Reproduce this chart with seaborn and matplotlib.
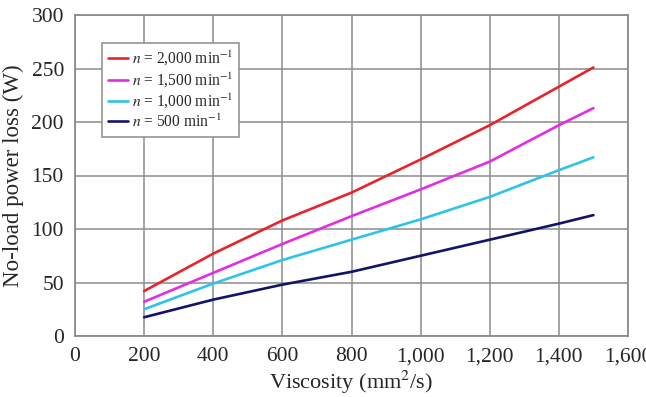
import numpy as np
import pandas as pd
import matplotlib
matplotlib.use("Agg")
import matplotlib.pyplot as plt
import seaborn as sns
from matplotlib.ticker import FuncFormatter

viscosity = [200, 400, 600, 800, 1000, 1200, 1400, 1500]
loss_2000 = [42, 77, 108, 134, 165, 197, 233, 251]
loss_1500 = [32, 59, 86, 112, 137, 163, 197, 213]
loss_1000 = [25, 49, 71, 90, 109, 130, 155, 167]
loss_500 = [17.5, 34, 48, 60, 75, 90, 105, 113]
series_labels = [r"$n$ = 2,000 min$^{-1}$", r"$n$ = 1,500 min$^{-1}$",
                 r"$n$ = 1,000 min$^{-1}$", r"$n$ = 500 min$^{-1}$"]
colors = ["#e8232b", "#e22ee0", "#2ec4ea", "#141466"]

rows = []
for lab, vals in zip(series_labels, [loss_2000, loss_1500, loss_1000, loss_500]):
    for x, y in zip(viscosity, vals):
        rows.append({"Viscosity": x, "Loss": y, "Speed": lab})
df = pd.DataFrame(rows)

sns.set_style("white")
plt.rcParams["font.family"] = ["Liberation Serif", "DejaVu Serif"]
plt.rcParams["mathtext.fontset"] = "stix"

fig = plt.figure(figsize=(6.46, 3.97), dpi=100)
ax = fig.add_axes([75/646, 61/397, 553/646, 321/397])

sns.lineplot(data=df, x="Viscosity", y="Loss", hue="Speed", palette=colors,
             hue_order=series_labels, linewidth=1.9, ax=ax, sort=False)

ax.set_xlim(0, 1600)
ax.set_ylim(0, 300)
ax.set_xticks(range(0, 1601, 200))
ax.set_yticks(range(0, 301, 50))
ax.xaxis.set_major_formatter(FuncFormatter(lambda v, p: f"{int(v):,}"))
ax.grid(True, color="#8c8c8c", linewidth=1.1)
ax.set_axisbelow(True)
for s in ax.spines.values():
    s.set_color("#8c8c8c")
    s.set_linewidth(1.3)
    s.set_visible(True)
ax.tick_params(axis="both", direction="out", length=5, width=1.1, color="#8c8c8c",
               labelsize=15.5, pad=3)
ax.set_xlabel(r"Viscosity (mm$^2$/s)", fontsize=16, labelpad=2)
ax.set_ylabel("No-load power loss (W)", fontsize=16.5, labelpad=5)

leg = ax.legend(loc="upper left", bbox_to_anchor=(27/553, 1 - 28/321), fontsize=11.2,
                frameon=True, fancybox=False, edgecolor="#8c8c8c", framealpha=1,
                handlelength=1.3, handletextpad=0.2, borderpad=0.4, labelspacing=0.15,
                borderaxespad=0)
leg.get_frame().set_linewidth(1.1)
leg.set_title(None)

fig.savefig("out.png", dpi=100)
